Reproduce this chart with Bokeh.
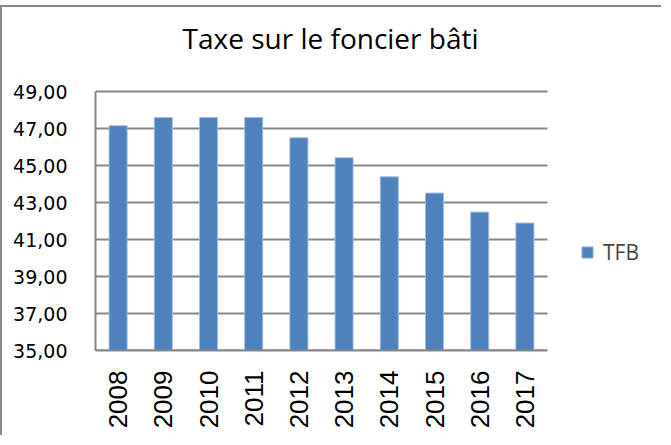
import math
from bokeh.plotting import figure
from bokeh.models import (Range1d, Legend, LegendItem, Label, FixedTicker,
                          CustomJSTickFormatter, ColumnDataSource)
from bokeh.embed import file_html
from bokeh.resources import INLINE

years = ["2008", "2009", "2010", "2011", "2012", "2013", "2014", "2015", "2016", "2017"]
tfb = [47.15, 47.60, 47.60, 47.60, 46.50, 45.42, 44.39, 43.51, 42.48, 41.89]
y_ticks = [35, 37, 39, 41, 43, 45, 47, 49]
title_text = "Taxe sur le foncier bâti"
series_name = "TFB"

n = len(years)
xpos = [i + 0.5 for i in range(n)]
src = ColumnDataSource(data=dict(x=xpos, val=tfb))

# canvas geometry (page: host at (8,13), 2px border -> canvas at (10,15))
CW, CH = 661, 430
FRAME_LEFT = 93          # canvas px
FRAME_BOTTOM = 343       # canvas px (y of value 35)
PX_PER_CAT = 45.2
PX_PER_UNIT = 259 / 14.0
x_end = (CW - FRAME_LEFT) / PX_PER_CAT
y_end = y_ticks[-1] + (FRAME_BOTTOM - 259) / PX_PER_UNIT

p = figure(width=CW, height=CH, output_backend="svg", toolbar_location=None,
           x_range=Range1d(0, x_end), y_range=Range1d(y_ticks[0], y_end),
           min_border_left=FRAME_LEFT, min_border_top=0, min_border_right=0,
           min_border_bottom=CH - FRAME_BOTTOM)
p.styles = {"border-left": "2px solid #8a8a8a", "border-top": "2px solid #8a8a8a",
            "margin-top": "5px"}
p.outline_line_color = None
p.background_fill_color = "white"
p.border_fill_color = "white"
p.xgrid.grid_line_color = None
p.ygrid.grid_line_color = None

# horizontal gridlines across the category span
p.segment(x0=[0] * len(y_ticks), x1=[n] * len(y_ticks), y0=y_ticks, y1=y_ticks,
          line_color="#868686", line_width=2)

r = p.vbar(x="x", top="val", bottom=y_ticks[0], width=0.4, source=src,
           fill_color="#4F81BD", line_color="#A3BEDF", line_width=1)

# axes
p.yaxis.ticker = FixedTicker(ticks=y_ticks)
p.yaxis.bounds = (y_ticks[0], y_ticks[-1])
p.yaxis.formatter = CustomJSTickFormatter(code="return tick.toFixed(2).replace('.', ',');")
p.yaxis.major_label_text_font = "DejaVu Sans"
p.yaxis.major_label_text_font_size = "19px"
p.yaxis.major_label_text_color = "black"
p.yaxis.major_tick_out = 0
p.yaxis.major_tick_in = 0
p.yaxis.minor_tick_out = 0
p.yaxis.minor_tick_in = 0
p.yaxis.major_label_standoff = 28
p.yaxis.axis_line_color = "#868686"
p.yaxis.axis_line_width = 2

p.xaxis.ticker = FixedTicker(ticks=xpos)
p.xaxis.bounds = (0, n)
p.xaxis.major_label_overrides = {xv: yr for xv, yr in zip(xpos, years)}
p.xaxis.major_label_orientation = math.pi / 2
p.xaxis.major_label_text_font = "Liberation Sans"
p.xaxis.major_label_text_font_size = "26px"
p.xaxis.major_label_text_color = "black"
p.xaxis.major_tick_out = 0
p.xaxis.major_tick_in = 0
p.xaxis.minor_tick_out = 0
p.xaxis.minor_tick_in = 0
p.xaxis.major_label_standoff = 20
p.xaxis.axis_line_color = "#868686"
p.xaxis.axis_line_width = 2

# title
p.add_layout(Label(x=5.2, y=51.9, text=title_text, text_align="center",
                   text_baseline="middle", text_font="Open Sans",
                   text_font_size="28px", text_color="black"))

legend = Legend(items=[LegendItem(label=series_name, renderers=[r])],
                location=(485, 84), border_line_color=None, background_fill_alpha=0,
                glyph_width=14, glyph_height=14, label_standoff=9, padding=0, margin=0,
                label_text_font="Open Sans", label_text_font_size="21px")
p.add_layout(legend)

open("out.html", "w").write(file_html(p, INLINE))
